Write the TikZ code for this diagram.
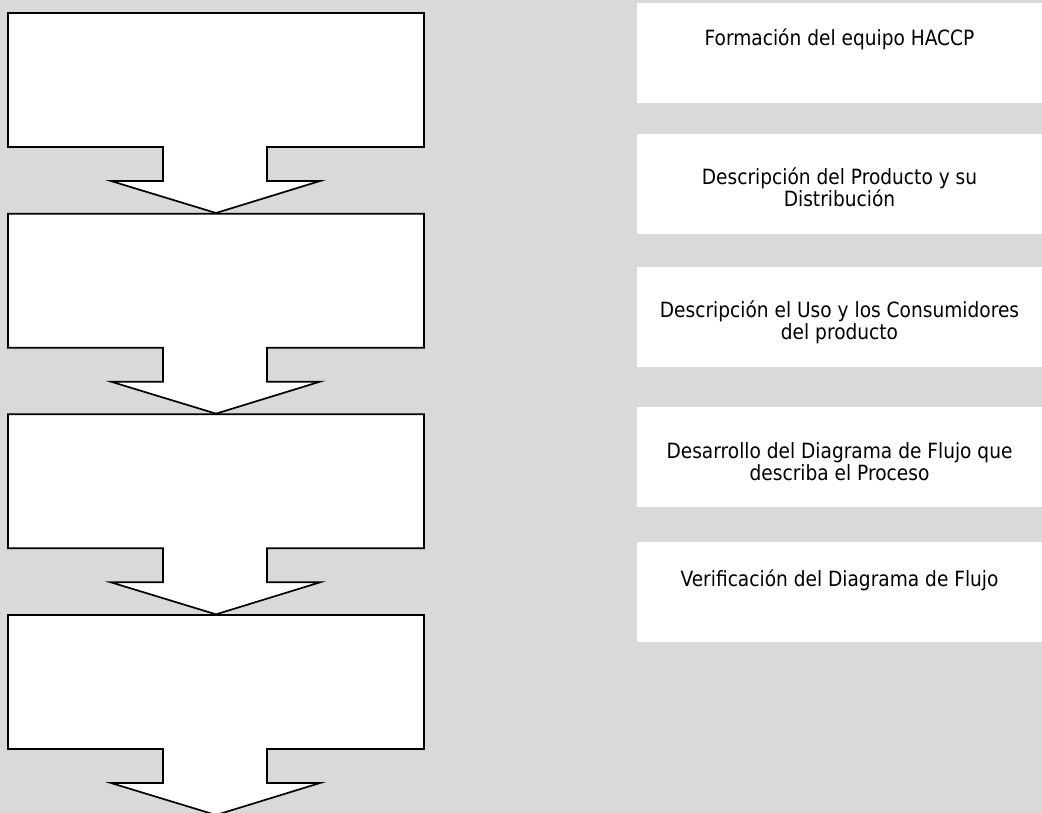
\documentclass[tikz,border=0pt]{standalone}
\usepackage{fontspec}
\newfontfamily\stepfont{DejaVu Sans}[FakeStretch=0.885]
\definecolor{panelgray}{HTML}{D9D9D9}

\tikzset{
  % outlined box with a downward block arrow hanging from its bottom edge
  pics/stagearrow/.style={code={
    \draw[stageline] (8,0) -- (424,0) -- (424,134) -- (267,134) -- (267,168)
      -- (320,168) -- (216,200) -- (111,168) -- (163,168) -- (163,134)
      -- (8,134) -- cycle;
  }},
  stageline/.style={draw=black, line width=1.7pt, fill=white, line join=miter},
  card/.style={fill=white, draw=none, minimum width=405pt, minimum height=100pt,
    inner sep=0pt, anchor=north west},
  cardtext/.style={font=\stepfont\fontsize{21}{22}\selectfont, align=center,
    text=black, inner sep=0pt}
}

\begin{document}
\begin{tikzpicture}[x=1pt, y=-1pt]
  \useasboundingbox (0,0) rectangle (1042,813);
  \clip (0,0) rectangle (1042,813);
  \fill[panelgray] (0,0) rectangle (1042,813);

  % left column: four empty stages
  \pic (s1) at (0,13)     {stagearrow};
  \pic (s2) at (0,213.67) {stagearrow};
  \pic (s3) at (0,414.33) {stagearrow};
  \pic (s4) at (0,615)    {stagearrow};

  % right column: step cards
  \node[card] (c1) at (637,3)   {};
  \node[card] (c2) at (637,134) {};
  \node[card] (c3) at (637,267) {};
  \node[card] (c4) at (637,407) {};
  \node[card] (c5) at (637,542) {};

  \node[cardtext] (t1) at (839.5,39)  {Formación del equipo HACCP};
  \node[cardtext] (t2) at (839.5,187) {Descripción del Producto y su\\Distribución};
  \node[cardtext] (t3) at (839.5,322) {Descripción el Uso y los Consumidores\\del producto};
  \node[cardtext] (t4) at (839.5,462) {Desarrollo del Diagrama de Flujo que\\describa el Proceso};
  \node[cardtext] (t5) at (839.5,580) {Verificación del Diagrama de Flujo};
\end{tikzpicture}
\end{document}
